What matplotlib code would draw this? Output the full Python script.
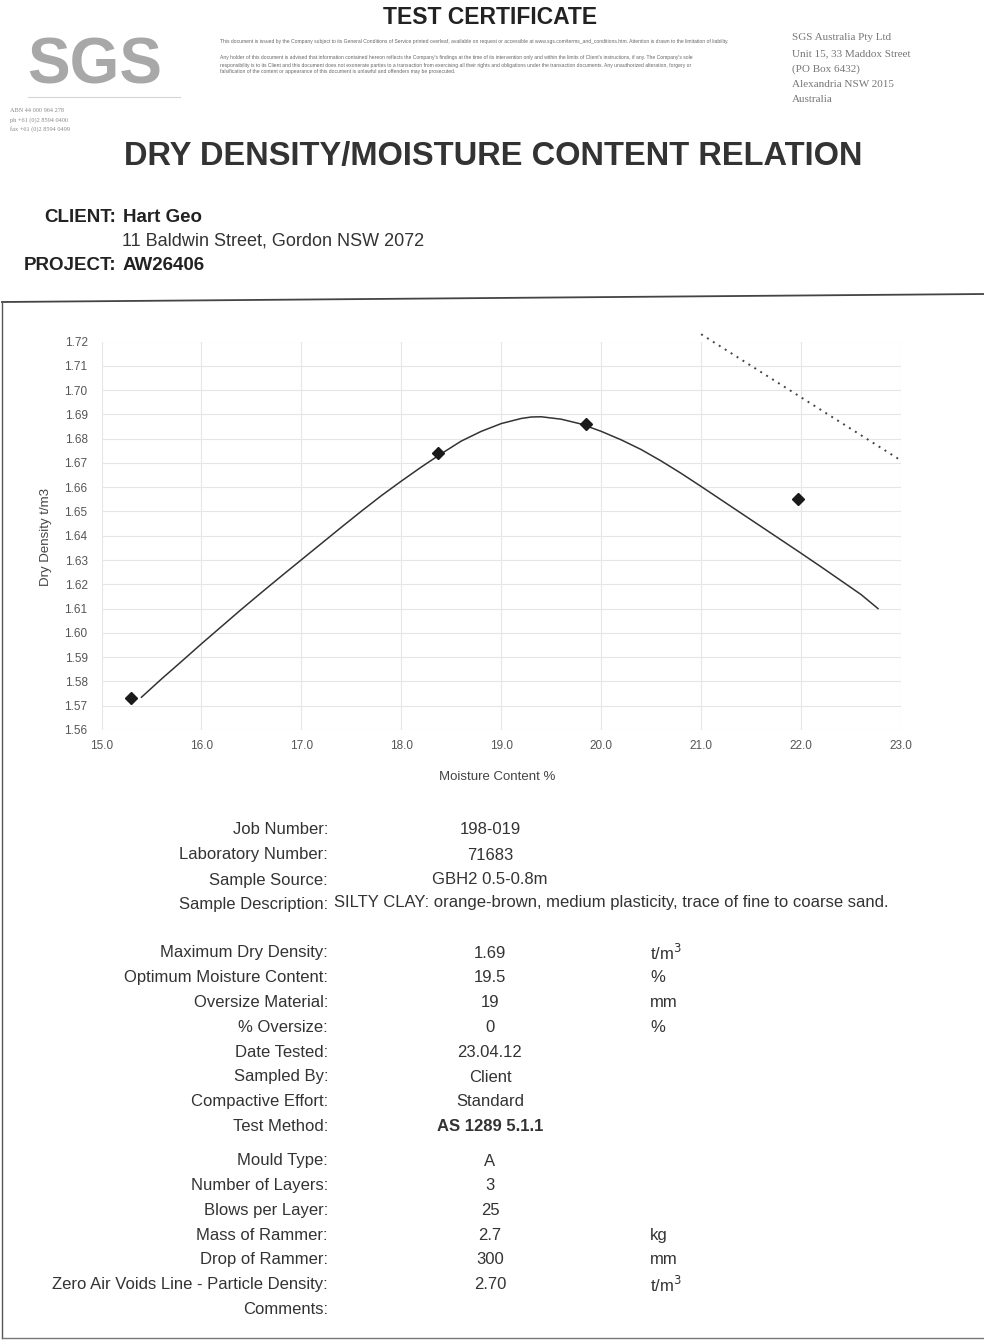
import matplotlib
matplotlib.use("Agg")
import matplotlib.pyplot as plt
from matplotlib.lines import Line2D

plt.rcParams['font.family'] = ['Liberation Sans', 'DejaVu Sans']

W, H = 984, 1344

# measured test points (moisture %, dry density t/m3)
moisture = [15.3, 18.37, 19.85, 21.97]
density = [1.573, 1.674, 1.686, 1.655]

# fitted compaction curve
curve_w = [15.4, 15.6, 15.8, 16.0, 16.2, 16.4, 16.6, 16.8, 17.0, 17.2,
           17.4, 17.6, 17.8, 18.0, 18.2, 18.4, 18.6, 18.8, 19.0, 19.2,
           19.3, 19.4, 19.6, 19.8, 20.0, 20.2, 20.4, 20.6, 20.8, 21.0,
           21.2, 21.4, 21.6, 21.8, 22.0, 22.2, 22.4, 22.6, 22.77]
curve_d = [1.5735, 1.5810, 1.5882, 1.5955, 1.6026, 1.6097, 1.6166, 1.6234,
           1.6301, 1.6368, 1.6435, 1.6501, 1.6565, 1.6625, 1.6683, 1.6738,
           1.6790, 1.6830, 1.6862, 1.6883, 1.6889, 1.6890, 1.6880, 1.6860,
           1.6830, 1.6795, 1.6755, 1.6708, 1.6657, 1.6603, 1.6548, 1.6493,
           1.6438, 1.6383, 1.6328, 1.6272, 1.6215, 1.6158, 1.6100]

# zero air voids line (particle density 2.70)
zav_w = [21.0, 22.0, 23.0]
zav_d = [1.723, 1.697, 1.671]

xticks = [15.0, 16.0, 17.0, 18.0, 19.0, 20.0, 21.0, 22.0, 23.0]
yticks = [1.56, 1.57, 1.58, 1.59, 1.60, 1.61, 1.62, 1.63, 1.64, 1.65, 1.66,
          1.67, 1.68, 1.69, 1.70, 1.71, 1.72]

rows1 = [("Job Number:", "198-019", ""),
         ("Laboratory Number:", "71683", ""),
         ("Sample Source:", "GBH2 0.5-0.8m", "")]
rows2 = [("Maximum Dry Density:", "1.69", "t/m$^3$"),
         ("Optimum Moisture Content:", "19.5", "%"),
         ("Oversize Material:", "19", "mm"),
         ("% Oversize:", "0", "%"),
         ("Date Tested:", "23.04.12", ""),
         ("Sampled By:", "Client", ""),
         ("Compactive Effort:", "Standard", ""),
         ("Test Method:", "AS 1289 5.1.1", "")]
rows3 = [("Mould Type:", "A", ""),
         ("Number of Layers:", "3", ""),
         ("Blows per Layer:", "25", ""),
         ("Mass of Rammer:", "2.7", "kg"),
         ("Drop of Rammer:", "300", "mm"),
         ("Zero Air Voids Line - Particle Density:", "2.70", "t/m$^3$"),
         ("Comments:", "", "")]


def P(x, y):
    return x / W, 1 - y / H


fig = plt.figure(figsize=(9.84, 13.44), dpi=100)
fig.patch.set_facecolor('white')

# ---- header ----
fig.text(*P(490, 17), "TEST CERTIFICATE", ha='center', va='center',
         fontsize=16.5, fontweight='bold', color='#222222')
fig.text(*P(95, 66), "SGS", ha='center', va='center', fontsize=46,
         fontweight='bold', color='#a8a8a8')
fig.add_artist(Line2D([28 / W, 180 / W], [1 - 97 / H, 1 - 97 / H],
                      color='#d5d5d5', lw=0.8))
for i, s in enumerate(["ABN 44 000 964 278", "ph +61 (0)2 8594 0400",
                       "fax +61 (0)2 8594 0499"]):
    fig.text(*P(10, 111 + i * 9), s, fontsize=4.5, color='#888888',
             va='center', family='Liberation Serif')
disc1 = ("This document is issued by the Company subject to its General Conditions of Service "
         "printed overleaf, available on request or accessible at www.sgs.com/terms_and_conditions.htm. "
         "Attention is drawn to the limitation of liability.")
disc2 = ["Any holder of this document is advised that information contained hereon reflects the Company's findings "
         "at the time of its intervention only and within the limits of Client's instructions, if any. The Company's sole",
         "responsibility is to its Client and this document does not exonerate parties to a transaction from exercising "
         "all their rights and obligations under the transaction documents. Any unauthorized alteration, forgery or",
         "falsification of the content or appearance of this document is unlawful and offenders may be prosecuted."]
fig.text(*P(220, 41), disc1, fontsize=3.6, color='#666666', va='center')
for i, s in enumerate(disc2):
    fig.text(*P(220, 58 + i * 7), s, fontsize=3.6, color='#666666', va='center')
for i, s in enumerate(["SGS Australia Pty Ltd", "Unit 15, 33 Maddox Street",
                       "(PO Box 6432)", "Alexandria NSW 2015", "Australia"]):
    fig.text(*P(792, 38 + i * 15.5), s, fontsize=8, color='#777777',
             va='center', family='Liberation Serif')

fig.text(*P(493, 156), "DRY DENSITY/MOISTURE CONTENT RELATION", ha='center',
         va='center', fontsize=23.5, fontweight='bold', color='#333333')
fig.text(*P(116, 217), "CLIENT:", ha='right', va='center', fontsize=13.5,
         fontweight='bold', color='#222222')
fig.text(*P(123, 217), "Hart Geo", ha='left', va='center', fontsize=13.5,
         fontweight='bold', color='#222222')
fig.text(*P(122, 241), "11 Baldwin Street, Gordon NSW 2072", ha='left',
         va='center', fontsize=13, color='#333333')
fig.text(*P(116, 266), "PROJECT:", ha='right', va='center', fontsize=13.5,
         fontweight='bold', color='#222222')
fig.text(*P(123, 266), "AW26406", ha='left', va='center', fontsize=13.5,
         fontweight='bold', color='#222222')

# frame around the chart section
fig.add_artist(Line2D([2 / W, 984 / W], [1 - 302 / H, 1 - 294 / H],
                      color='#444444', lw=1.3))
fig.add_artist(Line2D([2 / W, 2 / W], [1 - 302 / H, 1 - 1338 / H],
                      color='#555555', lw=1.0))
fig.add_artist(Line2D([2 / W, 984 / W], [1 - 1338 / H, 1 - 1338 / H],
                      color='#777777', lw=1.0))

# ---- chart ----
l, b = P(101.5, 730)
r, t = P(901, 341.5)
ax = fig.add_axes([l, b, r - l, t - b])
ax.set_xlim(15.0, 23.0)
ax.set_ylim(1.56, 1.72)
ax.set_xticks(xticks)
ax.set_yticks(yticks)
ax.set_xticklabels([f"{v:.1f}" for v in xticks])
ax.set_yticklabels([f"{v:.2f}" for v in yticks])
ax.grid(True, color='#e6e6e6', lw=0.8)
for s in ax.spines.values():
    s.set_visible(False)
ax.tick_params(length=0, labelsize=8.5, colors='#555555')
ax.tick_params(axis='y', pad=10)
ax.tick_params(axis='x', pad=7)

ax.plot(curve_w, curve_d, color='#333333', lw=1.1)
ax.plot(moisture, density, linestyle='none', marker='D', markersize=6,
        color='#1a1a1a')
ax.plot(zav_w, zav_d, color='#444444', lw=1.4, linestyle=(0, (1, 2.6)),
        clip_on=False)

fig.text(*P(46, 537), "Dry Density t/m3", rotation=90, ha='center',
         va='center', fontsize=9.5, color='#444444')
fig.text(*P(497, 777), "Moisture Content %", ha='center', va='center',
         fontsize=9.5, color='#444444')

# ---- details table ----
lab_x, val_x, unit_x = 328, 490, 650
fs = 12
tc = '#333333'


def row(y, lab, val, unit, bold=False):
    fig.text(*P(lab_x, y), lab, ha='right', va='center', fontsize=fs, color=tc)
    if val:
        fig.text(*P(val_x, y), val, ha='center', va='center', fontsize=fs,
                 color=tc, fontweight='bold' if bold else 'normal')
    if unit:
        fig.text(*P(unit_x, y), unit, ha='left', va='center', fontsize=fs,
                 color=tc)


for i, (a, v, u) in enumerate(rows1):
    row(830 + i * 25, a, v, u)
fig.text(*P(lab_x, 905), "Sample Description:", ha='right', va='center',
         fontsize=fs, color=tc)
fig.text(*P(334, 902), "SILTY CLAY: orange-brown, medium plasticity, trace of fine to coarse sand.",
         ha='left', va='center', fontsize=fs, color=tc)
for i, (a, v, u) in enumerate(rows2):
    row(953 + i * 24.8, a, v, u, bold=(a == "Test Method:"))
for i, (a, v, u) in enumerate(rows3):
    row(1161 + i * 24.7, a, v, u)

fig.savefig("out.png", dpi=100)
